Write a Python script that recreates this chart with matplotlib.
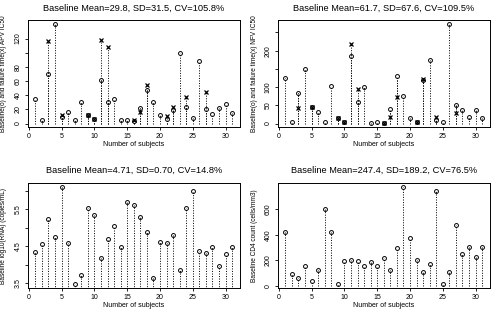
import matplotlib
matplotlib.use("Agg")
import matplotlib.pyplot as plt
import numpy as np

plt.rcParams['font.family'] = ['Liberation Sans', 'DejaVu Sans']

subjects = np.arange(1, 32)

apv_baseline = [34, 5, 70, 140, 9, 16.5, 5, 30, 11.5, 6.5, 62, 31, 35, 5, 5.5, 4,
                21.6, 48, 30, 12, 6.5, 19, 100, 23, 7.5, 89, 21, 14, 22, 28, 15]
apv_fail_subj = [3, 5, 9, 10, 11, 12, 16, 17, 18, 21, 22, 24, 27]
apv_fail = [117, 12.5, 11.5, 6.5, 118, 108, 4.5, 16.5, 54, 11, 24, 37, 44]

nfv_baseline = [125, 4.7, 84, 151, 46.5, 31, 4, 102, 14, 4, 186, 59, 100, 2, 3, 1,
                40, 130, 76, 16, 4, 120, 175, 9, 4, 272, 51, 37, 19, 38, 14]
nfv_fail_subj = [3, 5, 9, 10, 11, 12, 16, 17, 18, 21, 22, 24, 27]
nfv_fail = [44, 46.5, 14, 4, 218, 95, 1, 19, 73, 4, 121, 18, 30]

rna_baseline = [4.34, 4.57, 5.25, 4.75, 6.11, 4.59, 3.47, 3.73, 5.53, 5.34, 4.19,
                4.69, 5.05, 4.49, 5.71, 5.62, 5.28, 4.89, 3.63, 4.60, 4.58, 4.81,
                3.85, 5.55, 5.99, 4.38, 4.32, 4.47, 3.95, 4.28, 4.47]

cd4_baseline = [423, 94, 63, 154, 39, 123, 600, 420, 18, 193, 206, 196, 154, 190,
                156, 216, 128, 300, 772, 378, 203, 112, 175, 738, 16, 107, 472,
                250, 305, 224, 308]

titles = ["Baseline Mean=29.8, SD=31.5, CV=105.8%",
          "Baseline Mean=61.7, SD=67.6, CV=109.5%",
          "Baseline Mean=4.71, SD=0.70, CV=14.8%",
          "Baseline Mean=247.4, SD=189.2, CV=76.5%"]
ylabels = ["Baseline(o) and failure time(x) APV IC50",
           "Baseline(o) and failure time(x) NFV IC50",
           "Baseline log10(RNA) (copies/mL)",
           "Baseline CD4 count (cells/mm3)"]
xlabel = "Number of subjects"

yticks = [[0, 20, 40, 60, 80, 100, 120],
          [0, 50, 100, 150, 200, 250],
          [3.5, 4.0, 4.5, 5.0, 5.5, 6.0],
          [0, 200, 400, 600]]
yticklabels = [["0", "20", "40", "60", "80", "", "120"],
               ["0", "50", "100", "", "200", ""],
               ["3.5", "", "4.5", "", "5.5", ""],
               ["0", "200", "400", "600"]]

W, H = 499, 316
fig = plt.figure(figsize=(W / 100, H / 100), dpi=100)

# axes boxes in pixels: (left, top, right, bottom)
boxes = [(27.5, 20.5, 240, 127.5), (277.5, 20.5, 490, 127.5),
         (27.5, 183, 240, 288), (277.5, 183, 490, 288)]

series = [(apv_baseline, apv_fail_subj, apv_fail),
          (nfv_baseline, nfv_fail_subj, nfv_fail),
          (rna_baseline, None, None),
          (cd4_baseline, None, None)]

for i, (box, (base, fs, fv)) in enumerate(zip(boxes, series)):
    l, t, r, b = box
    ax = fig.add_axes([l / W, 1 - b / H, (r - l) / W, (b - t) / H])
    base = np.asarray(base)
    allv = list(base) + (list(fv) if fv is not None else [])
    lo, hi = min(allv), max(allv)
    if i < 2:
        lo = 0
    rng = hi - lo
    ax.set_ylim(lo - 0.04 * rng, hi + 0.04 * rng)
    ax.set_xlim(-0.2, 32.2)
    ax.vlines(subjects, 0, base, colors='black', linestyles=(0, (1.2, 1.6)), linewidth=0.65)
    ax.plot(subjects, base, 'o', ms=2.8, mfc='none', mec='black', mew=0.7)
    if fs is not None:
        top = np.maximum(fv, base[np.array(fs) - 1])
        ax.vlines(fs, 0, top, colors='black', linestyles=(0, (1.2, 1.6)), linewidth=0.65)
        ax.plot(fs, fv, 'x', ms=2.6, mec='black', mew=0.9)
    ax.set_xticks([0, 5, 10, 15, 20, 25, 30])
    ax.set_yticks(yticks[i])
    ax.set_yticklabels(yticklabels[i], rotation=90, va='center')
    ax.tick_params(axis='both', labelsize=5, length=2.5, width=0.6, pad=1.5, direction='out')
    for s in ax.spines.values():
        s.set_linewidth(0.7)
    h = b - t
    w = r - l
    ax.text(0.5, 1 + 12.5 / h, titles[i], transform=ax.transAxes, ha='center', va='center',
            fontsize=6.7)
    ax.text(0.5, -17.5 / h, xlabel, transform=ax.transAxes, ha='center', va='center',
            fontsize=5)
    ax.text(-23.5 / w, 0.5, ylabels[i], transform=ax.transAxes, ha='center', va='center',
            rotation=90, fontsize=4.7)

fig.savefig("out.png", dpi=100)
